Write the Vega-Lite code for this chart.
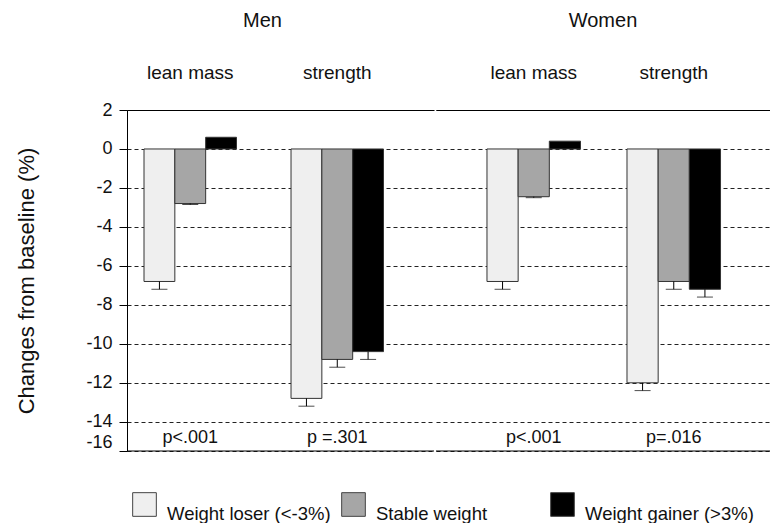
{
  "$schema": "https://vega.github.io/schema/vega-lite/v6.json",
  "padding": {"left": 15, "top": 11, "right": 0, "bottom": 0},
  "background": "white",
  "datasets": {
    "bars": [
      {"sex": "Men", "measure": "lean mass", "group": "Weight loser (<-3%)", "value": -6.8, "lower": -7.2},
      {"sex": "Men", "measure": "lean mass", "group": "Stable weight", "value": -2.8, "lower": -2.85},
      {"sex": "Men", "measure": "lean mass", "group": "Weight gainer (>3%)", "value": 0.6, "lower": null},
      {"sex": "Men", "measure": "strength", "group": "Weight loser (<-3%)", "value": -12.8, "lower": -13.2},
      {"sex": "Men", "measure": "strength", "group": "Stable weight", "value": -10.8, "lower": -11.2},
      {"sex": "Men", "measure": "strength", "group": "Weight gainer (>3%)", "value": -10.4, "lower": -10.8},
      {"sex": "Women", "measure": "lean mass", "group": "Weight loser (<-3%)", "value": -6.8, "lower": -7.2},
      {"sex": "Women", "measure": "lean mass", "group": "Stable weight", "value": -2.45, "lower": -2.5},
      {"sex": "Women", "measure": "lean mass", "group": "Weight gainer (>3%)", "value": 0.4, "lower": null},
      {"sex": "Women", "measure": "strength", "group": "Weight loser (<-3%)", "value": -12.0, "lower": -12.4},
      {"sex": "Women", "measure": "strength", "group": "Stable weight", "value": -6.8, "lower": -7.2},
      {"sex": "Women", "measure": "strength", "group": "Weight gainer (>3%)", "value": -7.2, "lower": -7.6}
    ],
    "pvals": [
      {"sex": "Men", "measure": "lean mass", "p": "p<.001"},
      {"sex": "Men", "measure": "strength", "p": "p =.301"},
      {"sex": "Women", "measure": "lean mass", "p": "p<.001"},
      {"sex": "Women", "measure": "strength", "p": "p=.016"}
    ]
  },
  "spacing": 0,
  "hconcat": [
    {
      "width": 307,
      "height": 341,
      "title": {"text": "Men", "fontSize": 20, "fontWeight": "normal", "color": "#111", "anchor": "middle", "offset": 32, "dx": -18},
      "layer": [
        {
          "data": {"name": "bars"},
          "transform": [{"filter": "datum.sex === 'Men'"}],
          "mark": {"type": "bar", "stroke": "#333", "strokeWidth": 1},
          "encoding": {
            "x": {"field": "measure", "type": "nominal", "sort": ["lean mass", "strength"],
              "scale": {"paddingInner": 0.371, "paddingOuter": 0.2296, "align": 0.252},
              "axis": {"orient": "top", "title": null, "ticks": false, "tickSize": 0, "domain": true, "domainColor": "#000", "labelAngle": 0, "labelFontSize": 19, "labelColor": "#111", "labelPadding": 28, "grid": false}},
            "xOffset": {"field": "group", "type": "nominal", "sort": ["Weight loser (<-3%)", "Stable weight", "Weight gainer (>3%)"],
              "scale": {"domain": ["Weight loser (<-3%)", "Stable weight", "Weight gainer (>3%)"], "paddingInner": 0, "paddingOuter": 0}},
            "y": {"field": "value", "type": "quantitative",
              "scale": {"domain": [-15.5, 2], "nice": false, "zero": false},
              "axis": {"title": "Changes from baseline (%)", "titleFontSize": 22, "titleFontWeight": "normal", "titleColor": "#111", "titlePadding": 47,
                "values": [2, 0, -2, -4, -6, -8, -10, -12, -14, -15.5], "tickCount": 30,
                "labelExpr": "datum.value < -15 ? '-16' : '' + datum.value",
                "labelFontSize": 18, "labelColor": "#111", "labelPadding": 7, "labelFlush": false, "labelOverlap": false,
                "labelBaseline": {"condition": {"test": "datum.value < -15", "value": "bottom"}, "value": "middle"},
                "tickSize": 8, "tickColor": "#000", "domainColor": "#000",
                "grid": true, "gridDash": [4, 3], "gridColor": "#222"}},
            "color": {"field": "group", "type": "nominal",
              "scale": {"domain": ["Weight loser (<-3%)", "Stable weight", "Weight gainer (>3%)"], "range": ["#efefef", "#a6a6a6", "#000000"]},
              "legend": {"orient": "none", "legendX": 5, "legendY": 382, "title": null, "direction": "horizontal", "columns": 3, "symbolType": "square", "symbolSize": 560,
                "symbolStrokeColor": "#444", "symbolStrokeWidth": 1, "symbolOpacity": 1, "labelFontSize": 18.5, "labelColor": "#111",
                "labelBaseline": "top", "labelOffset": 10, "columnPadding": 3, "gridAlign": "all", "padding": 0, "labelLimit": 300}}
          }
        },
        {
          "data": {"name": "bars"},
          "transform": [{"filter": "datum.sex === 'Men' && isValid(datum.lower)"}],
          "mark": {"type": "rule", "color": "#000", "strokeWidth": 1},
          "encoding": {
            "x": {"field": "measure", "type": "nominal", "sort": ["lean mass", "strength"]},
            "xOffset": {"field": "group", "type": "nominal", "sort": ["Weight loser (<-3%)", "Stable weight", "Weight gainer (>3%)"]},
            "y": {"field": "value", "type": "quantitative"},
            "y2": {"field": "lower"}
          }
        },
        {
          "data": {"name": "bars"},
          "transform": [{"filter": "datum.sex === 'Men' && isValid(datum.lower)"}],
          "mark": {"type": "tick", "color": "#000", "thickness": 1, "size": 16},
          "encoding": {
            "x": {"field": "measure", "type": "nominal", "sort": ["lean mass", "strength"]},
            "xOffset": {"field": "group", "type": "nominal", "sort": ["Weight loser (<-3%)", "Stable weight", "Weight gainer (>3%)"]},
            "y": {"field": "lower", "type": "quantitative"}
          }
        },
        {
          "data": {"name": "pvals"},
          "transform": [{"filter": "datum.sex === 'Men'"}],
          "mark": {"type": "text", "fontSize": 18, "baseline": "alphabetic", "dy": -8, "color": "#111"},
          "encoding": {
            "x": {"field": "measure", "type": "nominal", "sort": ["lean mass", "strength"]},
            "y": {"datum": -15.5},
            "text": {"field": "p"}
          }
        },
        {
          "data": {"values": [{}]},
          "mark": {"type": "rule", "color": "#000", "strokeWidth": 1},
          "encoding": {"y": {"datum": -15.5}}
        }
      ]
    },
    {
      "width": 338,
      "height": 341,
      "title": {"text": "Women", "fontSize": 20, "fontWeight": "normal", "color": "#111", "anchor": "middle", "offset": 32, "dx": -2},
      "layer": [
        {
          "data": {"name": "bars"},
          "transform": [{"filter": "datum.sex === 'Women'"}],
          "mark": {"type": "bar", "stroke": "#333", "strokeWidth": 1},
          "encoding": {
            "x": {"field": "measure", "type": "nominal", "sort": ["lean mass", "strength"],
              "scale": {"paddingInner": 0.332, "paddingOuter": 0.373, "align": 0.488},
              "axis": {"orient": "top", "title": null, "ticks": false, "tickSize": 0, "domain": true, "domainColor": "#000", "labelAngle": 0, "labelFontSize": 19, "labelColor": "#111", "labelPadding": 28, "grid": false}},
            "xOffset": {"field": "group", "type": "nominal", "sort": ["Weight loser (<-3%)", "Stable weight", "Weight gainer (>3%)"],
              "scale": {"domain": ["Weight loser (<-3%)", "Stable weight", "Weight gainer (>3%)"], "paddingInner": 0, "paddingOuter": 0}},
            "y": {"field": "value", "type": "quantitative",
              "scale": {"domain": [-15.5, 2], "nice": false, "zero": false},
              "axis": {"title": null, "labels": false, "ticks": false, "domain": false,
                "values": [2, 0, -2, -4, -6, -8, -10, -12, -14, -15.5], "tickCount": 30,
                "grid": true, "gridDash": [4, 3], "gridColor": "#222", "minExtent": 0, "maxExtent": 0}},
            "color": {"field": "group", "type": "nominal",
              "scale": {"domain": ["Weight loser (<-3%)", "Stable weight", "Weight gainer (>3%)"], "range": ["#efefef", "#a6a6a6", "#000000"]},
              "legend": {"orient": "none", "legendX": 5, "legendY": 382, "title": null, "direction": "horizontal", "columns": 3, "symbolType": "square", "symbolSize": 560,
                "symbolStrokeColor": "#444", "symbolStrokeWidth": 1, "symbolOpacity": 1, "labelFontSize": 18.5, "labelColor": "#111",
                "labelBaseline": "top", "labelOffset": 10, "columnPadding": 3, "gridAlign": "all", "padding": 0, "labelLimit": 300}}
          }
        },
        {
          "data": {"name": "bars"},
          "transform": [{"filter": "datum.sex === 'Women' && isValid(datum.lower)"}],
          "mark": {"type": "rule", "color": "#000", "strokeWidth": 1},
          "encoding": {
            "x": {"field": "measure", "type": "nominal", "sort": ["lean mass", "strength"]},
            "xOffset": {"field": "group", "type": "nominal", "sort": ["Weight loser (<-3%)", "Stable weight", "Weight gainer (>3%)"]},
            "y": {"field": "value", "type": "quantitative"},
            "y2": {"field": "lower"}
          }
        },
        {
          "data": {"name": "bars"},
          "transform": [{"filter": "datum.sex === 'Women' && isValid(datum.lower)"}],
          "mark": {"type": "tick", "color": "#000", "thickness": 1, "size": 16},
          "encoding": {
            "x": {"field": "measure", "type": "nominal", "sort": ["lean mass", "strength"]},
            "xOffset": {"field": "group", "type": "nominal", "sort": ["Weight loser (<-3%)", "Stable weight", "Weight gainer (>3%)"]},
            "y": {"field": "lower", "type": "quantitative"}
          }
        },
        {
          "data": {"name": "pvals"},
          "transform": [{"filter": "datum.sex === 'Women'"}],
          "mark": {"type": "text", "fontSize": 18, "baseline": "alphabetic", "dy": -8, "color": "#111"},
          "encoding": {
            "x": {"field": "measure", "type": "nominal", "sort": ["lean mass", "strength"]},
            "y": {"datum": -15.5},
            "text": {"field": "p"}
          }
        },
        {
          "data": {"values": [{}]},
          "mark": {"type": "rule", "color": "#000", "strokeWidth": 1},
          "encoding": {"y": {"datum": -15.5}}
        }
      ]
    }
  ],
  "resolve": {"scale": {"x": "independent", "xOffset": "independent", "y": "independent", "color": "shared"}, "legend": {"color": "shared"}},
  "config": {
    "font": "Liberation Sans",
    "view": {"stroke": null},
    "axis": {"labelFont": "Liberation Sans", "titleFont": "Liberation Sans"},
    "legend": {"labelFont": "Liberation Sans"},
    "title": {"font": "Liberation Sans"}
  }
}
